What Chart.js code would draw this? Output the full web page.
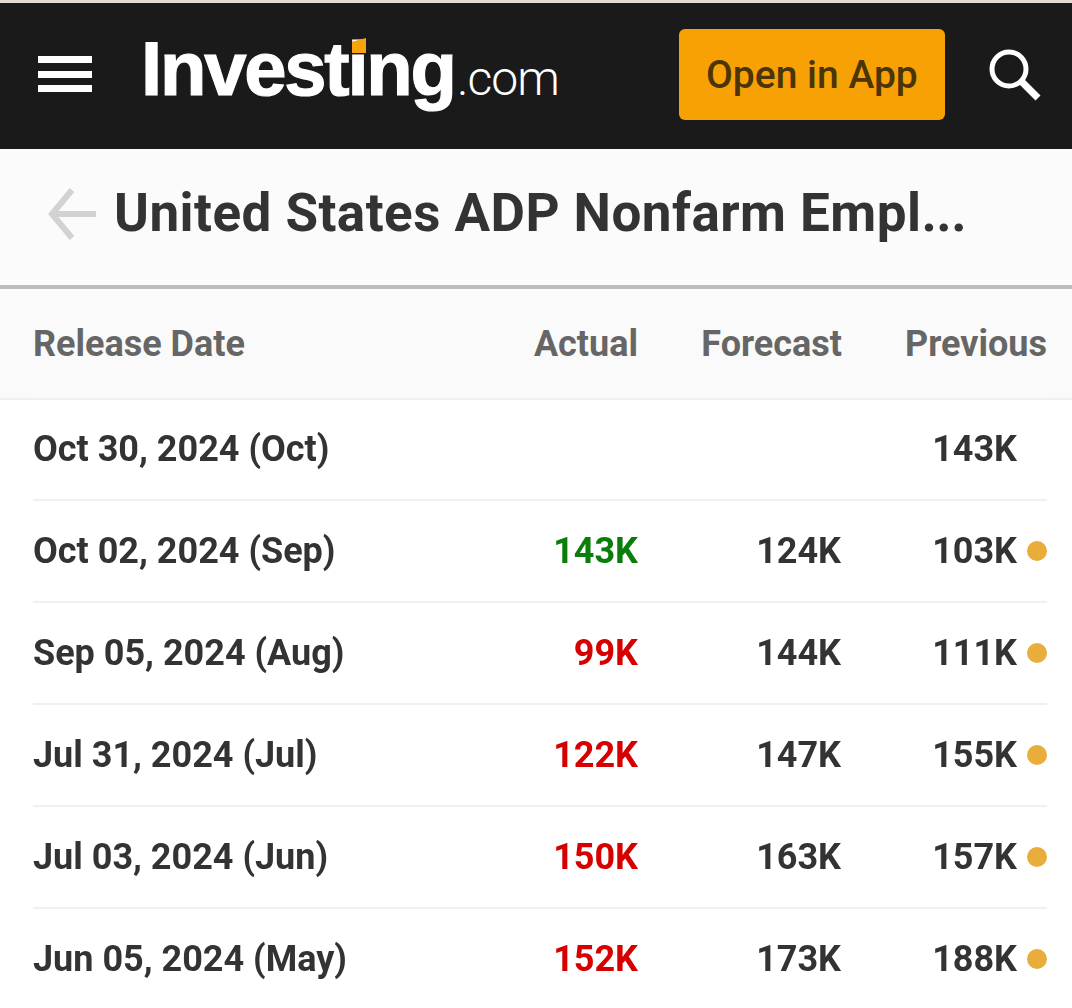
<!DOCTYPE html>
<html>
<head>
<meta charset="utf-8">
<title>United States ADP Nonfarm Employment Change</title>
<script src="https://cdn.jsdelivr.net/npm/chart.js@4"></script>
<style>
    html, body { margin: 0; padding: 0; background: #fff; width: 1072px; height: 1008px; overflow: hidden; font-family: Roboto, sans-serif; }
    .abs { position: absolute; white-space: nowrap; line-height: 1; }
    #strip { position: absolute; left: 0; top: 0; width: 1072px; height: 3px; background: #e4dcd2; }
    #topbar { position: absolute; left: 0; top: 3px; width: 1072px; height: 146px; background: #1a1a1a; }
    .bar { position: absolute; left: 38px; width: 54px; height: 7px; background: #fff; }
    #logo { left: 141px; top: 25px; font: bold 76px "Liberation Sans", sans-serif; letter-spacing: -2.2px; color: #fff; -webkit-text-stroke: 1.2px #fff; }
    #logo-com { left: 457px; top: 50px; font: 300 48px Roboto, sans-serif; letter-spacing: -1px; color: #fff; }
    #logo-tick { position: absolute; left: 352px; top: 38px; width: 14px; height: 15px; background: #f6a30d; clip-path: polygon(0 25%, 100% 0, 100% 100%, 0 100%); }
    #btn { position: absolute; left: 679px; top: 29px; width: 266px; height: 91px; background: #f7a104; border-radius: 6px; }
    #btn-text { left: 706px; top: 52px; font: 500 39px Roboto, sans-serif; color: #4b3408; }
    #titlebar { position: absolute; left: 0; top: 149px; width: 1072px; height: 136px; background: #fbfbfb; border-bottom: 4px solid #bdbdbd; }
    #title { left: 114px; top: 182px; font: bold 53px Roboto, sans-serif; letter-spacing: 0.45px; color: #333; }
    #title span { letter-spacing: -0.5px; }
    #headrow { position: absolute; left: 0; top: 289px; width: 1072px; height: 109px; background: #fafafa; border-bottom: 2px solid #efefef; }
    .th { top: 323px; font: bold 36px Roboto, sans-serif; color: #666; }
    #tabel { position: absolute; left: 0; top: 398px; }
</style>
</head>
<body>
<div id="strip"></div>
<div id="topbar"></div>
<div class="bar" style="top:56px"></div>
<div class="bar" style="top:71px"></div>
<div class="bar" style="top:85px"></div>
<div class="abs" id="logo">Investing</div>
<div class="abs" id="logo-com">.com</div>
<div id="logo-tick"></div>
<div id="btn"></div>
<div class="abs" id="btn-text">Open in App</div>
<svg class="abs" style="left:980px;top:40px" width="70" height="70">
    <circle cx="29" cy="29" r="17" fill="none" stroke="#fff" stroke-width="5"/>
    <line x1="41" y1="41" x2="58" y2="58" stroke="#fff" stroke-width="7"/>
</svg>
<div id="titlebar"></div>
<svg class="abs" style="left:42px;top:180px" width="64" height="64">
    <path d="M30 10 L10 34 L30 58 M10 34 L54 34" fill="none" stroke="#d2d2d2" stroke-width="6"/>
</svg>
<div class="abs" id="title">United States ADP Nonfarm Empl<span>...</span></div>
<div id="headrow"></div>
<div class="abs th" style="left:33px">Release Date</div>
<div class="abs th" style="right:434px">Actual</div>
<div class="abs th" style="right:230px">Forecast</div>
<div class="abs th" style="right:25px">Previous</div>
<canvas id="tabel" width="1072" height="612"></canvas>

<script>
// Data kalender rilis (nilai dalam ribuan)
const rilis = [
    { tanggal: 'Oct 30, 2024 (Oct)', actual: null, forecast: null, previous: 143, revisi: false },
    { tanggal: 'Oct 02, 2024 (Sep)', actual: 143, forecast: 124, previous: 103, revisi: true },
    { tanggal: 'Sep 05, 2024 (Aug)', actual: 99, forecast: 144, previous: 111, revisi: true },
    { tanggal: 'Jul 31, 2024 (Jul)', actual: 122, forecast: 147, previous: 155, revisi: true },
    { tanggal: 'Jul 03, 2024 (Jun)', actual: 150, forecast: 163, previous: 157, revisi: true },
    { tanggal: 'Jun 05, 2024 (May)', actual: 152, forecast: 173, previous: 188, revisi: true }
];

// Posisi kanan tiap kolom pada sumbu x
const KOLOM = { actual: 638, forecast: 841, previous: 1017, titik: 1037 };
const WARNA_TEKS = '#333333';
const UKURAN_FONT = 36;
const GESER_TEKS = 2.8; // baseline "middle" Roboto tampak agak ke atas

function warnaActual(row) {
    if (row.actual === null) return WARNA_TEKS;
    return row.actual > row.forecast ? '#0a7d0a' : '#d60000';
}

function kolomData(key) {
    return rilis.filter(r => r[key] !== null).map(r => ({ x: KOLOM[key], y: r.tanggal, nilai: r[key], warna: key === 'actual' ? warnaActual(r) : WARNA_TEKS }));
}

// Tulis nilai "143K" di posisi titik, rata kanan
const labelNilai = {
    id: 'labelNilai',
    afterDatasetsDraw(chart) {
        const { ctx } = chart;
        ctx.save();
        ctx.font = 'bold ' + UKURAN_FONT + 'px Roboto, sans-serif';
        ctx.textAlign = 'right';
        ctx.textBaseline = 'middle';
        chart.data.datasets.forEach((ds, i) => {
            if (ds.label === 'Revisi') return;
            chart.getDatasetMeta(i).data.forEach((pt, j) => {
                ctx.fillStyle = ds.data[j].warna;
                ctx.fillText(ds.data[j].nilai + 'K', pt.x, pt.y + GESER_TEKS);
            });
        });
        ctx.restore();
    }
};

new Chart(document.getElementById('tabel'), {
    type: 'scatter',
    data: {
        labels: rilis.map(r => r.tanggal),
        datasets: [
            { label: 'Actual', data: kolomData('actual'), pointRadius: 0 },
            { label: 'Forecast', data: kolomData('forecast'), pointRadius: 0 },
            { label: 'Previous', data: kolomData('previous'), pointRadius: 0 },
            {
                label: 'Revisi',
                data: rilis.filter(r => r.revisi).map(r => ({ x: KOLOM.titik, y: r.tanggal })),
                pointRadius: 10,
                backgroundColor: '#e8ad3a',
                borderWidth: 0
            }
        ]
    },
    options: {
        responsive: false,
        animation: false,
        devicePixelRatio: 1,
        layout: { autoPadding: false, padding: { left: 33, right: 25, top: 0, bottom: 0 } },
        plugins: { legend: { display: false }, tooltip: { enabled: false } },
        scales: {
            x: { type: 'linear', min: 33, max: 1047, display: false },
            y: {
                type: 'category',
                offset: true,
                border: { display: false },
                grid: { offset: true, color: '#f0f0f0', lineWidth: 2, drawTicks: false },
                // tabel memakai seluruh tinggi canvas, tanpa margin label
                afterFit(scale) {
                    scale.paddingTop = 0;
                    scale.paddingBottom = 0;
                },
                ticks: {
                    mirror: true,
                    padding: 0,
                    autoSkip: false,
                    color: WARNA_TEKS,
                    font: { family: 'Roboto, sans-serif', size: UKURAN_FONT, weight: 'bold', lineHeight: 2 * GESER_TEKS / UKURAN_FONT },
                    // baris kosong di depan menggeser label ke bawah sebesar GESER_TEKS
                    callback(value) {
                        return ['', this.getLabelForValue(value)];
                    }
                }
            }
        }
    },
    plugins: [labelNilai]
});
</script>
</body>
</html>
